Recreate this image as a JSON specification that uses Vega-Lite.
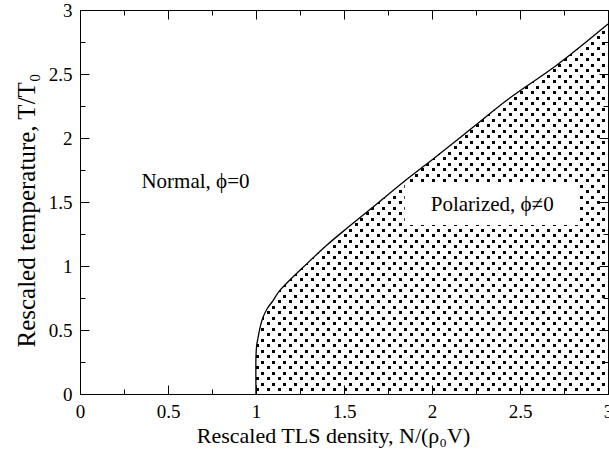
{
  "$schema": "https://vega.github.io/schema/vega-lite/v6.json",
  "width": 528,
  "height": 384,
  "autosize": {"type": "none"},
  "padding": {"left": 80, "top": 10, "right": 1, "bottom": 61},
  "background": "white",
  "config": {
    "view": {"stroke": null},
    "font": "Liberation Serif",
    "axis": {
      "zindex": 1,
      "grid": false,
      "domainColor": "black",
      "domainWidth": 1,
      "tickColor": "black",
      "tickWidth": 1,
      "labelColor": "black",
      "titleColor": "black",
      "labelFont": "Liberation Serif",
      "titleFont": "Liberation Serif",
      "labelFontSize": 19,
      "titleFontSize": 22,
      "titleFontWeight": "normal"
    }
  },
  "datasets": {
    "curve": [
      {"n": 1.0, "t": 0.0},
      {"n": 1.0, "t": 0.3},
      {"n": 1.004, "t": 0.38},
      {"n": 1.013, "t": 0.45},
      {"n": 1.025, "t": 0.53},
      {"n": 1.04, "t": 0.6},
      {"n": 1.065, "t": 0.67},
      {"n": 1.097, "t": 0.73},
      {"n": 1.13, "t": 0.8},
      {"n": 1.174, "t": 0.865},
      {"n": 1.268, "t": 0.99},
      {"n": 1.4, "t": 1.16},
      {"n": 1.53, "t": 1.31},
      {"n": 1.7, "t": 1.5},
      {"n": 1.85, "t": 1.67},
      {"n": 2.01, "t": 1.84},
      {"n": 2.22, "t": 2.07},
      {"n": 2.44, "t": 2.31},
      {"n": 2.71, "t": 2.57},
      {"n": 3.0, "t": 2.89}
    ],
    "rowsA": [
      {"t": 0.0352}, {"t": 0.1211}, {"t": 0.2070}, {"t": 0.2930}, {"t": 0.3789},
      {"t": 0.4648}, {"t": 0.5508}, {"t": 0.6367}, {"t": 0.7227}, {"t": 0.8086},
      {"t": 0.8945}, {"t": 0.9805}, {"t": 1.0664}, {"t": 1.1523}, {"t": 1.2383},
      {"t": 1.3242}, {"t": 1.4102}, {"t": 1.4961}, {"t": 1.5820}, {"t": 1.6680},
      {"t": 1.7539}, {"t": 1.8398}, {"t": 1.9258}, {"t": 2.0117}, {"t": 2.0977},
      {"t": 2.1836}, {"t": 2.2695}, {"t": 2.3555}, {"t": 2.4414}, {"t": 2.5273},
      {"t": 2.6133}, {"t": 2.6992}, {"t": 2.7852}, {"t": 2.8711}
    ],
    "rowsB": [
      {"t": 0.0742}, {"t": 0.1602}, {"t": 0.2461}, {"t": 0.3320}, {"t": 0.4180},
      {"t": 0.5039}, {"t": 0.5898}, {"t": 0.6758}, {"t": 0.7617}, {"t": 0.8477},
      {"t": 0.9336}, {"t": 1.0195}, {"t": 1.1055}, {"t": 1.1914}, {"t": 1.2773},
      {"t": 1.3633}, {"t": 1.4492}, {"t": 1.5352}, {"t": 1.6211}, {"t": 1.7070},
      {"t": 1.7930}, {"t": 1.8789}, {"t": 1.9648}, {"t": 2.0508}, {"t": 2.1367},
      {"t": 2.2227}, {"t": 2.3086}, {"t": 2.3945}, {"t": 2.4805}, {"t": 2.5664},
      {"t": 2.6523}, {"t": 2.7383}, {"t": 2.8242}
    ],
    "box": [{"x1": 1.845, "x2": 2.84, "y1": 1.32, "y2": 1.635}],
    "normal": [{"n": 0.656, "t": 1.66, "label": "Normal, ϕ=0"}],
    "polar": [{"n": 2.342, "t": 1.479, "label": "Polarized, ϕ≠0"}]
  },
  "layer": [
    {
      "data": {"name": "rowsA"},
      "mark": {"type": "rule", "color": "black", "strokeWidth": 3, "strokeDash": [3, 8], "strokeCap": "butt"},
      "encoding": {
        "y": {"field": "t", "type": "quantitative", "scale": {"domain": [0, 3], "nice": false}, "axis": null},
        "x": {"datum": 1, "type": "quantitative", "scale": {"domain": [0, 3], "nice": false}, "axis": null},
        "x2": {"datum": 3}
      }
    },
    {
      "data": {"name": "rowsB"},
      "mark": {"type": "rule", "color": "black", "strokeWidth": 3, "strokeDash": [3, 8], "strokeDashOffset": 6, "strokeCap": "butt"},
      "encoding": {
        "y": {"field": "t", "type": "quantitative", "scale": {"domain": [0, 3], "nice": false}, "axis": null},
        "x": {"datum": 1, "type": "quantitative", "scale": {"domain": [0, 3], "nice": false}, "axis": null},
        "x2": {"datum": 3}
      }
    },
    {
      "data": {"name": "curve"},
      "mark": {"type": "area", "orient": "horizontal", "color": "white", "opacity": 1, "interpolate": "catmull-rom"},
      "encoding": {
        "y": {"field": "t", "type": "quantitative", "scale": {"domain": [0, 3], "nice": false},
              "axis": {"orient": "right", "values": [0, 0.5, 1, 1.5, 2, 2.5, 3], "tickSize": -9, "labels": false, "title": null}},
        "x": {"field": "n", "type": "quantitative", "scale": {"domain": [0, 3], "nice": false},
              "axis": {"orient": "top", "values": [0, 0.5, 1, 1.5, 2, 2.5, 3], "tickSize": -9, "labels": false, "title": null}},
        "x2": {"datum": 1}
      }
    },
    {
      "data": {"name": "curve"},
      "mark": {"type": "line", "color": "black", "strokeWidth": 1.3, "interpolate": "catmull-rom"},
      "encoding": {
        "y": {"field": "t", "type": "quantitative", "scale": {"domain": [0, 3], "nice": false},
              "axis": {"orient": "left", "values": [0, 0.5, 1, 1.5, 2, 2.5, 3], "tickSize": -9, "labelPadding": 17, "labelFlush": false, "labelOverlap": false, "format": "~g", "title": "Rescaled temperature, T/T₀", "titleFontSize": 25, "titlePadding": 9, "titleY": 200}},
        "x": {"field": "n", "type": "quantitative", "scale": {"domain": [0, 3], "nice": false},
              "axis": {"orient": "bottom", "values": [0, 0.5, 1, 1.5, 2, 2.5, 3], "tickSize": -9, "labelPadding": 17, "labelFlush": false, "labelOverlap": false, "format": "~g", "title": "Rescaled TLS density, N/(ρ₀V)", "titlePadding": 4, "titleX": 253}},
        "order": {"field": "t", "type": "quantitative"}
      }
    },
    {
      "data": {"name": "box"},
      "mark": {"type": "rect", "color": "white"},
      "encoding": {
        "x": {"field": "x1", "type": "quantitative", "scale": {"domain": [0, 3], "nice": false}, "axis": null},
        "x2": {"field": "x2"},
        "y": {"field": "y1", "type": "quantitative", "scale": {"domain": [0, 3], "nice": false}, "axis": null},
        "y2": {"field": "y2"}
      }
    },
    {
      "data": {"name": "normal"},
      "mark": {"type": "text", "font": "Liberation Serif", "fontSize": 21, "color": "black", "align": "center", "baseline": "middle"},
      "encoding": {
        "x": {"field": "n", "type": "quantitative", "scale": {"domain": [0, 3], "nice": false},
              "axis": {"orient": "bottom", "values": [0.25, 0.75, 1.25, 1.75, 2.25, 2.75], "tickSize": -5, "labels": false, "domain": false, "title": null}},
        "y": {"field": "t", "type": "quantitative", "scale": {"domain": [0, 3], "nice": false},
              "axis": {"orient": "left", "values": [0.25, 0.75, 1.25, 1.75, 2.25, 2.75], "tickSize": -5, "labels": false, "domain": false, "title": null}},
        "text": {"field": "label"}
      }
    },
    {
      "data": {"name": "polar"},
      "mark": {"type": "text", "font": "Liberation Serif", "fontSize": 21, "color": "black", "align": "center", "baseline": "middle"},
      "encoding": {
        "x": {"field": "n", "type": "quantitative", "scale": {"domain": [0, 3], "nice": false},
              "axis": {"orient": "top", "values": [0.25, 0.75, 1.25, 1.75, 2.25, 2.75], "tickSize": -5, "labels": false, "domain": false, "title": null}},
        "y": {"field": "t", "type": "quantitative", "scale": {"domain": [0, 3], "nice": false},
              "axis": {"orient": "right", "values": [0.25, 0.75, 1.25, 1.75, 2.25, 2.75], "tickSize": -5, "labels": false, "domain": false, "title": null}},
        "text": {"field": "label"}
      }
    }
  ],
  "resolve": {"axis": {"x": "independent", "y": "independent"}}
}
